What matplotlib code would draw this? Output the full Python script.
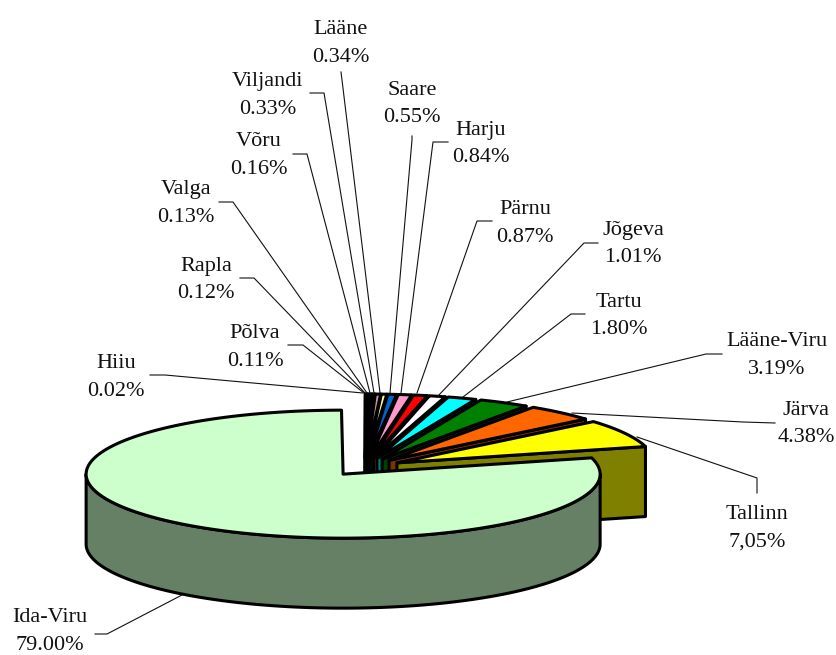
import matplotlib
matplotlib.use('Agg')
import matplotlib.pyplot as plt
import numpy as np
from matplotlib.patches import Polygon

# clockwise from 12 o'clock
regions = ['Hiiu', 'Põlva', 'Rapla', 'Valga', 'Võru', 'Viljandi', 'Lääne', 'Saare',
           'Harju', 'Pärnu', 'Jõgeva', 'Tartu', 'Lääne-Viru', 'Järva', 'Tallinn', 'Ida-Viru']
shares = [0.02, 0.11, 0.12, 0.13, 0.16, 0.33, 0.34, 0.55,
          0.84, 0.87, 1.01, 1.80, 3.19, 4.38, 7.05, 79.00]
share_labels = ['0.02%', '0.11%', '0.12%', '0.13%', '0.16%', '0.33%', '0.34%', '0.55%',
                '0.84%', '0.87%', '1.01%', '1.80%', '3.19%', '4.38%', '7,05%', '79.00%']

colors = ['#000080', '#FF00FF', '#FFFF00', '#FFFFCC', '#800000', '#CC9999', '#FFFF99', '#0066CC',
          '#FF99CC', '#FF0000', '#FFFFFF', '#00FFFF', '#008000', '#FF6600', '#FFFF00', '#CCFFCC']

# label centre x and first line baseline, in pixels
label_pos = [(116, 368), (255, 338), (206, 271), (186, 194), (259, 146), (268, 86), (341, 34), (412, 95),
             (481, 135), (525, 214), (633, 235), (619, 307), (777, 346), (806, 415), (757, 519), (50, 622)]
# leader lines: start, elbow, end
starts = [(150, 375), (288, 345), (240, 278), (219, 202), (293, 154), (310, 93), (341, 72), (412, 136),
          (448, 142), (492, 221), (598, 243), (585, 314), (722, 354), (775, 423), (757, 493), (95, 634)]
elbows = [(165, 375), (303, 345), (254, 278), (233, 202), (307, 154), (324, 93), (342, 80), (412, 140),
          (433, 142), (477, 221), (584, 243), (571, 314), (706, 354), (743, 422), (757, 478), (107, 634)]
ends = [(363, 393), (364, 393), (365, 393), (367, 393), (370, 393), (374, 393), (380, 393), (390, 393),
        (401, 393), (417, 393), (437, 397), (463, 397), (507, 402), (572, 413), (637, 437), (182, 595)]

CX, CY = 365, 467      # pie centre before explosion
RX, RY = 257, 64
EXPLODE = 36
DEPTH = 70
EDGE = 2.2
LINE_GAP = 27.5


def rim(apex, a):
    return apex[0] + RX * np.sin(a), apex[1] - RY * np.cos(a)


def arc(apex, a0, a1):
    t = np.linspace(a0, a1, 200)
    return np.column_stack(rim(apex, t))


plt.rcParams['font.family'] = 'Liberation Serif'
fig = plt.figure(figsize=(8.37, 6.55), dpi=100)
ax = fig.add_axes([0, 0, 1, 1])
ax.set_xlim(0, 837)
ax.set_ylim(655, 0)
ax.axis('off')

edges = np.radians(np.concatenate([[0], np.cumsum(shares)]) * 3.6)

for i in range(len(shares)):
    a0, a1 = edges[i], edges[i + 1]
    mid = (a0 + a1) / 2
    apex = (CX + EXPLODE * np.sin(mid), CY - EXPLODE * 0.25 * np.cos(mid))
    face = np.array(matplotlib.colors.to_rgb(colors[i]))
    side = face * 0.5
    z = 2 + i
    drop = np.array([0, DEPTH])

    # cut face on the clockwise end, only seen in the back half
    if a1 < np.pi / 2:
        end = np.array(rim(apex, a1))
        quad = [apex, end, end + drop, np.array(apex) + drop]
        ax.add_patch(Polygon(quad, fc=side, ec='black', lw=EDGE, joinstyle='round', zorder=z))

    # outer wall, front half only
    lo, hi = max(a0, np.pi / 2), min(a1, 3 * np.pi / 2)
    if hi > lo:
        top = arc(apex, lo, hi)
        ax.add_patch(Polygon(np.vstack([top, (top + drop)[::-1]]), fc=side, ec='black', lw=EDGE,
                             joinstyle='round', zorder=z))

    ax.add_patch(Polygon(np.vstack([[apex], arc(apex, a0, a1)]), fc=face, ec='black', lw=EDGE,
                         joinstyle='round', zorder=z))

for i, name in enumerate(regions):
    x, y = label_pos[i]
    ax.plot([starts[i][0], elbows[i][0], ends[i][0]], [starts[i][1], elbows[i][1], ends[i][1]],
            color='#111111', lw=0.8, zorder=30)
    ax.text(x, y, name, ha='center', va='baseline', fontsize=16, color='#111111', zorder=40)
    ax.text(x, y + LINE_GAP, share_labels[i], ha='center', va='baseline', fontsize=16, color='#111111', zorder=40)

fig.savefig('out.png', dpi=100, facecolor='white')
